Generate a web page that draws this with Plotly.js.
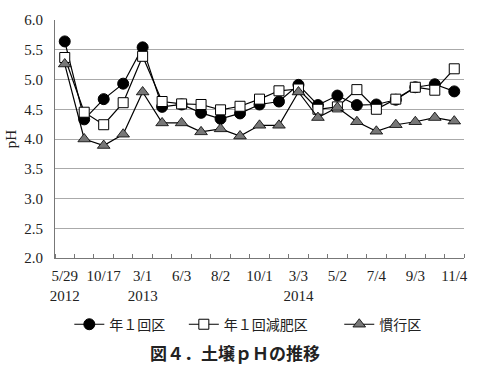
<!DOCTYPE html>
<html><head><meta charset="utf-8">
<script src="https://cdn.plot.ly/plotly-3.0.1.min.js"></script>
<style>html,body{margin:0;padding:0;background:#fff}#c{width:495px;height:377px}</style>
</head><body><div id="c"></div>
<script>
const tickLabels = ['5/29<br>2012','10/17','3/1<br>2013','6/3','8/2','10/1','3/3<br>2014','5/2','7/4','9/3','11/4'];
const tickPositions = [0,2,4,6,8,10,12,14,16,18,20];
const samples = [0,1,2,3,4,5,6,7,8,9,10,11,12,13,14,15,16,17,18,19,20];
const annual = [5.64,4.33,4.67,4.93,5.54,4.54,4.58,4.44,4.34,4.43,4.58,4.63,4.91,4.57,4.73,4.57,4.58,4.66,4.87,4.92,4.80];
const annualReduced = [5.37,4.45,4.24,4.61,5.39,4.63,4.59,4.58,4.49,4.55,4.67,4.81,4.84,4.50,4.54,4.83,4.50,4.67,4.87,4.82,5.18];
const conventional = [5.26,4.00,3.89,4.08,4.79,4.27,4.27,4.12,4.17,4.05,4.23,4.23,4.79,4.36,4.53,4.29,4.13,4.24,4.29,4.36,4.30];
const names = ['年１回区','年１回減肥区','慣行区'];

const line = {color:'#000', width:1.2};
const serif = 'Liberation Serif, DejaVu Serif, serif';
const traces = [
 {x:samples, y:annual, name:names[0], legend:'legend', mode:'lines+markers', line:line,
  marker:{symbol:'circle', size:11, color:'#000', line:{color:'#000', width:1}}},
 {x:samples, y:annualReduced, name:names[1], legend:'legend2', mode:'lines+markers', line:line,
  marker:{symbol:'square', size:10, color:'#fff', line:{color:'#000', width:1}}},
 {x:samples, y:conventional, name:names[2], legend:'legend3', mode:'lines+markers', line:line,
  marker:{symbol:'triangle-up', size:11, color:'#777', line:{color:'#000', width:0.8}}}
];
const legFont = {family:'Noto Sans CJK JP', size:14, color:'#222'};
const leg = (x) => ({orientation:'h', x:x, xanchor:'left', y:-0.28, yanchor:'middle',
   font:legFont, itemwidth:30, bgcolor:'rgba(0,0,0,0)'});
const layout = {
 width:495, height:377,
 margin:{l:55, r:31, t:20, b:119},
 paper_bgcolor:'#fff', plot_bgcolor:'#fff',
 font:{family:serif, size:15, color:'#222'},
 showlegend:true,
 legend:leg(0.035), legend2:leg(0.315), legend3:leg(0.695),
 xaxis:{range:[-0.5,20.5], tickmode:'array', tickvals:tickPositions, ticktext:tickLabels,
   ticks:'', showgrid:false, zeroline:false, showline:true, linecolor:'#777', linewidth:1,
   ticklabelstandoff:4,
   tickfont:{family:serif, size:15, color:'#222'},
   minor:{tickmode:'linear', tick0:-0.5, dtick:1, ticks:'inside', ticklen:4, tickcolor:'#777', showgrid:false}},
 yaxis:{range:[2,6], dtick:0.5, tickformat:'.1f', showgrid:true, gridcolor:'#aaa', gridwidth:1,
   zeroline:false, showline:true, linecolor:'#777', linewidth:1, ticks:'', ticklabelstandoff:8,
   title:{text:'pH', standoff:4, font:{family:serif, size:15}},
   tickfont:{family:serif, size:15, color:'#222'}},
 annotations:[{text:'図４．土壌ｐＨの推移', xref:'paper', yref:'paper', x:0.44, y:-0.395,
   xanchor:'center', yanchor:'middle', showarrow:false,
   font:{family:'Noto Sans CJK JP', size:17, color:'#222', weight:'bold'}}]
};
Plotly.newPlot('c', traces, layout, {displayModeBar:false, staticPlot:true});
</script></body></html>
